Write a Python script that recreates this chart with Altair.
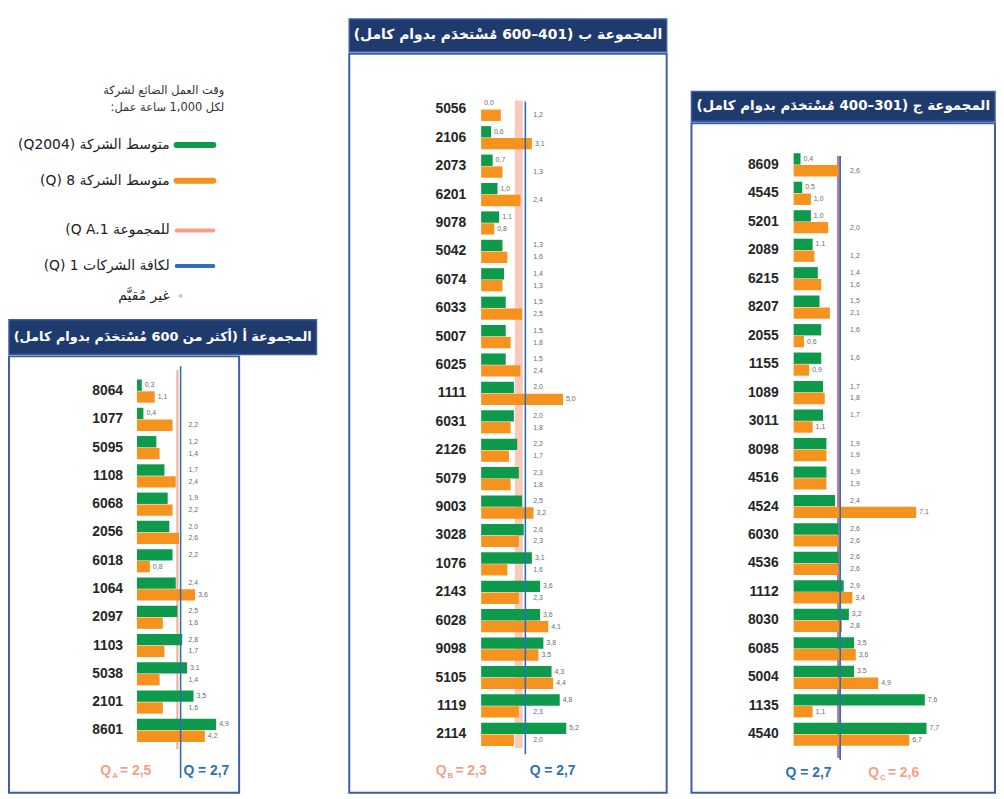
import altair as alt
import pandas as pd

# ---------------- data ----------------
A_ids = ["8064", "1077", "5095", "1108", "6068", "2056", "6018", "1064", "2097", "1103", "5038", "2101", "8601"]
A_green = [0.3, 0.4, 1.2, 1.7, 1.9, 2.0, 2.2, 2.4, 2.5, 2.8, 3.1, 3.5, 4.9]
A_orange = [1.1, 2.2, 1.4, 2.4, 2.2, 2.6, 0.8, 3.6, 1.6, 1.7, 1.4, 1.6, 4.2]

B_ids = ["5056", "2106", "2073", "6201", "9078", "5042", "6074", "6033", "5007", "6025", "1111", "6031",
         "2126", "5079", "9003", "3028", "1076", "2143", "6028", "9098", "5105", "1119", "2114"]
B_green = [0.0, 0.6, 0.7, 1.0, 1.1, 1.3, 1.4, 1.5, 1.5, 1.5, 2.0, 2.0,
           2.2, 2.3, 2.5, 2.6, 3.1, 3.6, 3.6, 3.8, 4.3, 4.8, 5.2]
B_orange = [1.2, 3.1, 1.3, 2.4, 0.8, 1.6, 1.3, 2.5, 1.8, 2.4, 5.0, 1.8,
            1.7, 1.8, 3.2, 2.3, 1.6, 2.3, 4.1, 3.5, 4.4, 2.3, 2.0]

C_ids = ["8609", "4545", "5201", "2089", "6215", "8207", "2055", "1155", "1089", "3011", "8098",
         "4516", "4524", "6030", "4536", "1112", "8030", "6085", "5004", "1135", "4540"]
C_green = [0.4, 0.5, 1.0, 1.1, 1.4, 1.5, 1.6, 1.6, 1.7, 1.7, 1.9,
           1.9, 2.4, 2.6, 2.6, 2.9, 3.2, 3.5, 3.5, 7.6, 7.7]
C_orange = [2.6, 1.0, 2.0, 1.2, 1.6, 2.1, 0.6, 0.9, 1.8, 1.1, 1.9,
            1.9, 7.1, 2.6, 2.6, 3.4, 2.8, 3.6, 4.9, 1.1, 6.7]

Q_ALL = 2.7
Q_A, Q_B, Q_C = 2.5, 2.3, 2.6

RLE, PDF = "\u202b", "\u202c"
TITLE_A = RLE + "المجموعة أ (أكثر من 600 مُسْتخدَم بدوام كامل)" + PDF
TITLE_B = RLE + "المجموعة ب (401–600 مُسْتخدَم بدوام كامل)" + PDF
TITLE_C = RLE + "المجموعة ج (301–400 مُسْتخدَم بدوام كامل)" + PDF

LEG_TITLE_1 = RLE + "وقت العمل الضائع لشركة" + PDF
LEG_TITLE_2 = RLE + "لكل 1,000 ساعة عمل:" + PDF
LEG_ITEMS = [
    RLE + "متوسط الشركة (Q2004)" + PDF,
    RLE + "متوسط الشركة 8 (Q)" + PDF,
    "(Q A.1 للمجموعة",
    RLE + "لكافة الشركات 1 (Q)" + PDF,
    RLE + "غير مُقيَّم" + PDF,
]

# ---------------- style ----------------
GREEN = "#0e9a4b"
ORANGE = "#f6921e"
BLUE = "#2f6fb8"
SALMON = "#f3a189"
NAVY = "#1f3a6d"
FRAME = "#3d5da6"
FONT_AR = "DejaVu Sans"
FONT_NUM = "Liberation Sans"


def long_table(ids, g, o):
    rows = []
    for i, gv, ov in zip(ids, g, o):
        rows.append({"id": i, "s": "g", "v": gv})
        rows.append({"id": i, "s": "o", "v": ov})
    return pd.DataFrame(rows)


def fmt(v):
    return f"{v:.1f}".replace(".", ",")


def panel(ids, g, o, q_group, letter, width, height, zero_px, ppu, y_range, col_x,
          cat_x, blue_y, red_y, red_color, red_width, red_opacity, blue_lab, red_lab):
    df = long_table(ids, g, o)
    xs = alt.Scale(domain=[-zero_px / ppu, (width - zero_px) / ppu], nice=False, zero=False)
    ys = alt.Scale(domain=ids, range=y_range, paddingInner=0.18, paddingOuter=0.09)
    yo = alt.YOffset("s:N", scale=alt.Scale(domain=["g", "o"], paddingInner=0.04))
    y_enc = alt.Y("id:N", scale=ys, axis=None)

    base = alt.Chart(df)
    bars = base.mark_bar().encode(
        x=alt.X("v:Q", scale=xs, axis=None),
        x2=alt.datum(0),
        y=y_enc,
        yOffset=yo,
        color=alt.Color("s:N", scale=alt.Scale(domain=["g", "o"], range=[GREEN, ORANGE]), legend=None),
    )
    vals = base.transform_calculate(
        lx=f"datum.v < 1.2 ? datum.v : max(datum.v, {col_x})",
        lt="replace(format(datum.v, '.1f'), '.', ',')",
    ).mark_text(align="left", baseline="middle", dx=3, fontSize=7, color="#6b6b6b", font=FONT_NUM).encode(
        x=alt.X("lx:Q", scale=xs, axis=None),
        y=y_enc,
        yOffset=yo,
        text="lt:N",
    )
    cats = alt.Chart(pd.DataFrame({"id": ids})).mark_text(
        align="right", baseline="middle", fontSize=14, fontWeight="bold", color="#262626", font=FONT_NUM
    ).encode(x=alt.value(cat_x), y=y_enc, text="id:N")

    red = alt.Chart(pd.DataFrame({"q": [q_group]})).mark_rule(
        color=red_color, strokeWidth=red_width, opacity=red_opacity
    ).encode(x=alt.X("q:Q", scale=xs, axis=None), y=alt.value(red_y[0]), y2=alt.value(red_y[1]))
    blue = alt.Chart(pd.DataFrame({"q": [Q_ALL]})).mark_rule(color=BLUE, strokeWidth=1.6).encode(
        x=alt.X("q:Q", scale=xs, axis=None), y=alt.value(blue_y[0]), y2=alt.value(blue_y[1])
    )

    bx, by = blue_lab
    rx, ry = red_lab
    qb = alt.Chart(pd.DataFrame({"t": ["Q = " + fmt(Q_ALL)]})).mark_text(
        align="center", baseline="middle", fontSize=14, fontWeight="bold", color=BLUE, font=FONT_NUM
    ).encode(x=alt.value(bx), y=alt.value(by), text="t:N")
    qr1 = alt.Chart(pd.DataFrame({"t": ["Q"]})).mark_text(
        align="right", baseline="middle", fontSize=14, fontWeight="bold", color=SALMON, font=FONT_NUM
    ).encode(x=alt.value(rx - 14), y=alt.value(ry), text="t:N")
    qr2 = alt.Chart(pd.DataFrame({"t": [letter]})).mark_text(
        align="left", baseline="middle", fontSize=8, fontWeight="bold", color=SALMON, font=FONT_NUM
    ).encode(x=alt.value(rx - 13), y=alt.value(ry + 5), text="t:N")
    qr3 = alt.Chart(pd.DataFrame({"t": ["= " + fmt(q_group)]})).mark_text(
        align="left", baseline="middle", fontSize=14, fontWeight="bold", color=SALMON, font=FONT_NUM
    ).encode(x=alt.value(rx - 5), y=alt.value(ry), text="t:N")

    return alt.layer(red, bars, blue, vals, cats, qb, qr1, qr2, qr3).properties(
        width=width, height=height, view=alt.ViewBackground(stroke=FRAME, strokeWidth=2, fill="white")
    )


def header(title, width, height, size):
    return alt.Chart(pd.DataFrame({"t": [title]})).mark_text(
        color="white", fontSize=size, fontWeight="bold", font=FONT_AR, align="center", baseline="middle"
    ).encode(text="t:N", x=alt.value(width / 2), y=alt.value(height / 2)).properties(
        width=width, height=height, view=alt.ViewBackground(fill=NAVY, stroke=FRAME, strokeWidth=1.5)
    )


def spacer(width, height):
    return alt.Chart(pd.DataFrame({"a": [0]})).mark_point(opacity=0).encode(
        x=alt.value(0), y=alt.value(0)
    ).properties(width=width, height=height)


def legend_chart(width, height):
    layers = []
    t1 = alt.Chart(pd.DataFrame({"t": [LEG_TITLE_1]})).mark_text(
        align="right", baseline="middle", fontSize=11.5, color="#333333", font=FONT_AR
    ).encode(x=alt.value(217), y=alt.value(78), text="t:N")
    t2 = alt.Chart(pd.DataFrame({"t": [LEG_TITLE_2]})).mark_text(
        align="right", baseline="middle", fontSize=11.5, color="#333333", font=FONT_AR
    ).encode(x=alt.value(217), y=alt.value(95), text="t:N")
    layers += [t1, t2]
    item_y = [132, 168, 218, 254, 284]
    swatch = [(GREEN, 6), (ORANGE, 6), (SALMON, 4), (BLUE, 4)]
    for k, (txt, yy) in enumerate(zip(LEG_ITEMS, item_y)):
        layers.append(
            alt.Chart(pd.DataFrame({"t": [txt]})).mark_text(
                align="right", baseline="middle", fontSize=14, color="#222222", font=FONT_AR
            ).encode(x=alt.value(162), y=alt.value(yy), text="t:N")
        )
        if k < 4:
            col, sw = swatch[k]
            layers.append(
                alt.Chart(pd.DataFrame({"c": [col]})).mark_rule(color=col, strokeWidth=sw, strokeCap="round").encode(
                    x=alt.value(169), x2=alt.value(206), y=alt.value(yy)
                )
            )
        else:
            layers.append(
                alt.Chart(pd.DataFrame({"c": [0]})).mark_point(filled=True, color="#9fb0c8", size=14).encode(
                    x=alt.value(173), y=alt.value(yy)
                )
            )
    return alt.layer(*layers).properties(width=width, height=height)


# ---------------- panels ----------------
boxA = panel(A_ids, A_green, A_orange, Q_A, "A", width=232, height=440, zero_px=129, ppu=16.3,
             y_range=[20.75, 391.25], col_x=3.0, cat_x=115, blue_y=(10, 425), red_y=(14, 396),
             red_color=SALMON, red_width=2, red_opacity=0.9, blue_lab=(199, 418), red_lab=(117, 418))
boxB = panel(B_ids, B_green, B_orange, Q_B, "B", width=320, height=745, zero_px=133, ppu=16.5,
             y_range=[41.7, 700.4], col_x=3.0, cat_x=118, blue_y=(48, 706), red_y=(47, 700),
             red_color="#f08a6a", red_width=8, red_opacity=0.45, blue_lab=(205, 723), red_lab=(112, 723))
boxC = panel(C_ids, C_green, C_orange, Q_C, "C", width=306, height=675, zero_px=103, ppu=17.4,
             y_range=[27.65, 630.35], col_x=3.1, cat_x=88, blue_y=(33, 642), red_y=(33, 640),
             red_color="#b86f7f", red_width=3, red_opacity=0.9, blue_lab=(118, 655), red_lab=(203, 655))

colA = alt.vconcat(legend_chart(340, 307), header(TITLE_A, 310, 35, 13), boxA, spacing=0)
colB = alt.vconcat(spacer(342, 4), header(TITLE_B, 320, 33, 14), boxB, spacing=0)
colC = alt.vconcat(spacer(306, 77), header(TITLE_C, 306, 30, 13.5), boxC, spacing=0)

chart = alt.hconcat(colA, colB, colC, spacing=0).properties(padding=0, background="white").configure_view(
    strokeWidth=0
)

chart.save("out.html", embed_options={"renderer": "svg", "actions": False})
